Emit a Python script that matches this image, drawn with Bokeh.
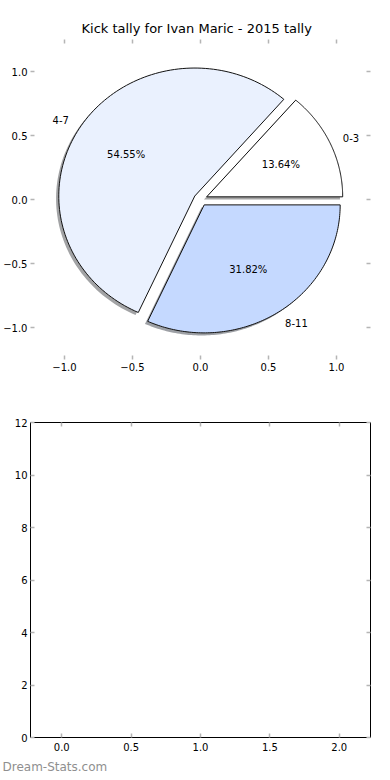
import numpy as np
from bokeh.plotting import figure
from bokeh.models import (Range1d, LinearAxis, FixedTicker, CustomJSTickFormatter,
                          Title, ColumnDataSource)
from bokeh.layouts import column
from bokeh.core.properties import value
from bokeh.embed import file_html
from bokeh.resources import INLINE

# ---- data ----
title_text = "Kick tally for Ivan Maric - 2015 tally"
labels = ["0-3", "4-7", "8-11"]
values = [3, 12, 7]
colors = ["#ffffff", "#eaf1fe", "#c5d9ff"]
explode = [0.05, 0.05, 0.05]
pie_ticks = [-1.0, -0.5, 0.0, 0.5, 1.0]
bottom_xticks = [0.0, 0.5, 1.0, 1.5, 2.0]
bottom_yticks = [0, 2, 4, 6, 8, 10, 12]
watermark = "Dream-Stats.com"

FONT = "DejaVu Sans"
TICK_COLOR = "#b5b5b5"

# ---- pie geometry from values ----
vals = np.array(values, dtype=float)
fr = vals / vals.sum()
ends = 2 * np.pi * np.cumsum(fr)
starts = ends - 2 * np.pi * fr
xs, ys, sxs, sys_, sh_colors = [], [], [], [], []
lab_x, lab_y, lab_align, pct_x, pct_y, pct_text = [], [], [], [], [], []
for i in range(len(vals)):
    t1, t2 = starts[i], ends[i]
    mid = 0.5 * (t1 + t2)
    cx = explode[i] * np.cos(mid)
    cy = explode[i] * np.sin(mid)
    th = np.linspace(t1, t2, 120)
    px = [cx] + list(cx + np.cos(th))
    py = [cy] + list(cy + np.sin(th))
    xs.append(px)
    ys.append(py)
    sxs.append([v - 0.02 for v in px])
    sys_.append([v - 0.02 for v in py])
    r, g, b = (int(colors[i][k:k + 2], 16) for k in (1, 3, 5))
    sh_colors.append("#%02x%02x%02x" % (int(r * 0.3), int(g * 0.3), int(b * 0.3)))
    lx = cx + 1.1 * np.cos(mid)
    ly = cy + 1.1 * np.sin(mid)
    lab_x.append(lx)
    lab_y.append(ly)
    lab_align.append("left" if lx > 0 else "right")
    pct_x.append(cx + 0.6 * np.cos(mid))
    pct_y.append(cy + 0.6 * np.sin(mid))
    pct_text.append("%1.2f%%" % (fr[i] * 100))

minus_fmt = CustomJSTickFormatter(code="return tick.toFixed(1).replace('-', '\\u2212');")


def style_axis(ax, ticks, fmt=None, show_labels=True):
    ax.ticker = FixedTicker(ticks=ticks)
    ax.minor_tick_line_color = None
    ax.major_tick_in = 4
    ax.major_tick_out = 0
    ax.major_tick_line_color = TICK_COLOR
    ax.major_tick_line_width = 1.5
    ax.major_label_text_font = FONT
    ax.major_label_text_font_size = "10px"
    ax.major_label_text_color = "#000000"
    ax.major_label_standoff = 3
    if show_labels:
        if fmt is not None:
            ax.formatter = fmt
    else:
        ax.formatter = CustomJSTickFormatter(code="return '';")
        ax.major_label_standoff = 0


# ---- pie figure ----
p1 = figure(width=382, height=380, output_backend="svg", toolbar_location=None,
            x_range=Range1d(-1.25, 1.25), y_range=Range1d(-1.25, 1.25),
            min_border_left=28, min_border_right=12, min_border_top=39,
            min_border_bottom=21)
p1.title.text = title_text
p1.title.text_font = FONT
p1.title.text_font_size = "13px"
p1.title.text_font_style = "normal"
p1.title.text_color = "#000000"
p1.title.align = "left"
p1.title.offset = 51
p1.title.standoff = 7
p1.outline_line_color = None
p1.grid.grid_line_color = None
p1.add_layout(LinearAxis(), "above")
p1.add_layout(LinearAxis(), "right")
for ax in p1.xaxis:
    ax.axis_line_color = None
for ax in p1.yaxis:
    ax.axis_line_color = None
style_axis(p1.below[0], pie_ticks, fmt=minus_fmt)
style_axis(p1.left[0], pie_ticks, fmt=minus_fmt)
style_axis(p1.above[0], pie_ticks, show_labels=False)
style_axis(p1.right[0], pie_ticks, show_labels=False)

p1.patches(sxs, sys_, fill_color=sh_colors, fill_alpha=0.5, line_color=None)
p1.patches(xs, ys, fill_color=colors, line_color="#111111", line_width=1)

lab_src = ColumnDataSource(dict(x=lab_x, y=lab_y, text=labels, align=lab_align))
p1.text(x="x", y="y", text="text", text_align="align", text_baseline="middle",
        text_font=value(FONT), text_font_size="10px", text_color="#000000",
        source=lab_src)
pct_src = ColumnDataSource(dict(x=pct_x, y=pct_y, text=pct_text))
p1.text(x="x", y="y", text="text", text_align="center", text_baseline="middle",
        text_font=value(FONT), text_font_size="10px", text_color="#000000",
        source=pct_src)

# ---- empty bottom figure ----
p2 = figure(width=382, height=398, output_backend="svg", toolbar_location=None,
            x_range=Range1d(-0.225, 2.225), y_range=Range1d(0, 12),
            min_border_left=28, min_border_right=12, min_border_top=42,
            min_border_bottom=39)
p2.outline_line_color = "#000000"
p2.outline_line_width = 1
p2.grid.grid_line_color = None
p2.add_layout(LinearAxis(), "above")
p2.add_layout(LinearAxis(), "right")
for ax in p2.xaxis:
    ax.axis_line_color = None
for ax in p2.yaxis:
    ax.axis_line_color = None
style_axis(p2.below[0], bottom_xticks,
           fmt=CustomJSTickFormatter(code="return tick.toFixed(1);"))
style_axis(p2.left[0], bottom_yticks,
           fmt=CustomJSTickFormatter(code="return tick.toFixed(0);"))
style_axis(p2.above[0], bottom_xticks, show_labels=False)
style_axis(p2.right[0], bottom_yticks, show_labels=False)
p2.below[0].major_label_standoff = 5
# invisible glyph so the plot has a renderer
p2.scatter(x=[], y=[])

wm = Title(text=watermark, align="left", text_color="#8f8f8f", text_font=FONT,
           text_font_size="12px", text_font_style="normal", standoff=9, offset=-28)
p2.add_layout(wm, "below")

layout = column(p1, p2, spacing=0)
open("out.html", "w").write(file_html(layout, INLINE))
